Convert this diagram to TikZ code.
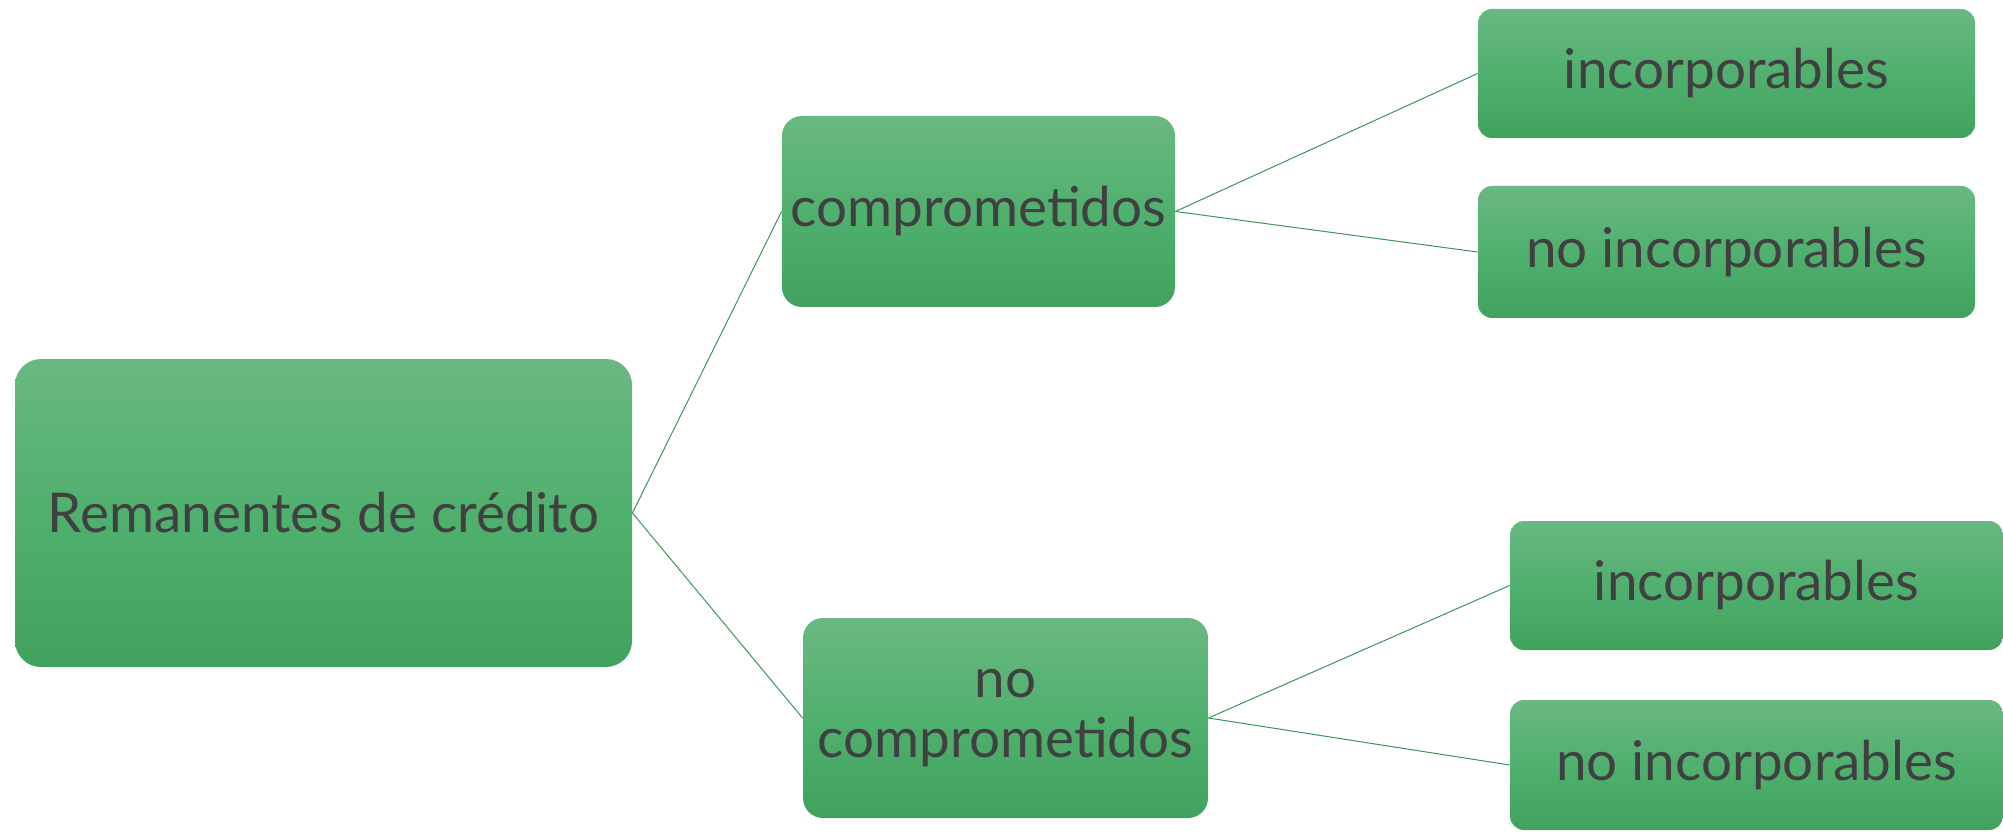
\documentclass[tikz,border=0pt]{standalone}
\usepackage{fontspec}
\setmainfont{Lato}
\usetikzlibrary{positioning}

\definecolor{boxtop}{RGB}{106,184,130}
\definecolor{boxmid}{RGB}{80,176,110}
\definecolor{boxbot}{RGB}{65,162,93}
\definecolor{linkgreen}{RGB}{60,150,88}
\definecolor{textgrey}{RGB}{64,64,64}

\tikzset{
  greenbox/.style={rounded corners=10pt, top color=boxtop, bottom color=boxbot,
    middle color=boxmid, draw=none, inner sep=2pt, align=center,
    text=textgrey, font=\fontsize{27.4}{30}\selectfont},
  link/.style={draw=linkgreen, line width=0.5pt}
}

\begin{document}
\begin{tikzpicture}[x=0.5pt,y=-0.5pt]
\useasboundingbox (0,0) rectangle (2003,834);
% first level
\node[greenbox, rounded corners=13pt, minimum width=308.5pt, minimum height=154pt] (root) at (323.5,513) {Remanentes de crédito};
% second level
\node[greenbox, minimum width=196.5pt, minimum height=95.5pt] (comp) at (978.5,211.5) {comprometidos};
\node[greenbox, minimum width=202.5pt, minimum height=100pt] (nocomp) at (1005.5,718) {no\\comprometidos};
% third level
\node[greenbox, rounded corners=7pt, minimum width=248.5pt, minimum height=64.5pt] (inca) at (1726.5,73.5) {incorporables};
\node[greenbox, rounded corners=7pt, minimum width=248.5pt, minimum height=66pt] (noinca) at (1726.5,252) {no incorporables};
\node[greenbox, rounded corners=7pt, minimum width=246.5pt, minimum height=64.5pt] (incb) at (1756.5,585.5) {incorporables};
\node[greenbox, rounded corners=7pt, minimum width=246.5pt, minimum height=65pt] (noincb) at (1756.5,765) {no incorporables};
% connectors
\draw[link] (root.east) -- (comp.west);
\draw[link] (root.east) -- (nocomp.west);
\draw[link] (comp.east) -- (inca.west);
\draw[link] (comp.east) -- (noinca.west);
\draw[link] (nocomp.east) -- (incb.west);
\draw[link] (nocomp.east) -- (noincb.west);
\end{tikzpicture}
\end{document}
